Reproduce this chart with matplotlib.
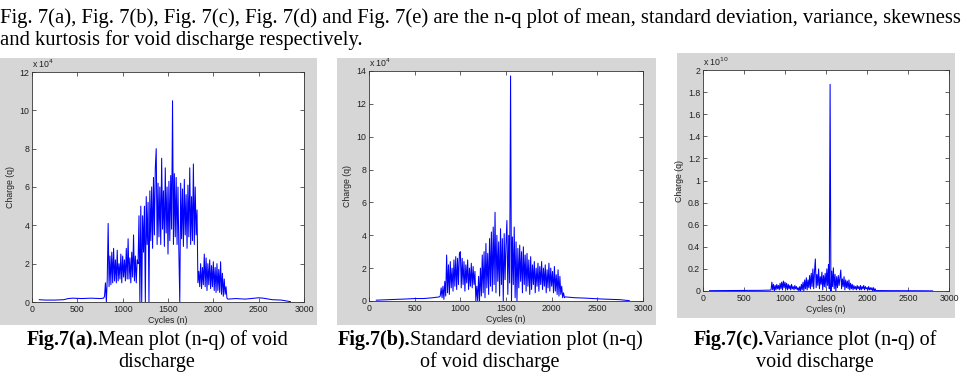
import numpy as np
from matplotlib import pyplot as plt
from matplotlib.patches import Rectangle

W, H = 964, 378

# ---- данные ----
cycles_step = 10

# (a) mean, units of 1e4
mean_left_x = [80, 150, 250, 350, 400, 450, 550, 650, 750, 790]
mean_left_y = [0.12, 0.1, 0.1, 0.12, 0.18, 0.2, 0.18, 0.2, 0.18, 0.2]
mean_start = 800
mean_active = [
    0.3, 1.0, 0.0, 1.2, 4.1, 0.8, 2.4, 0.9, 2.6, 1.0,
    2.8, 1.1, 2.2, 1.0, 2.7, 1.1, 2.0, 1.2, 2.5, 1.0,
    2.4, 1.3, 2.2, 1.1, 2.8, 1.2, 3.3, 1.2, 2.3, 1.0,
    2.6, 1.3, 3.5, 1.1, 2.4, 1.0, 2.2, 2.0, 4.5, 0.0,
    5.0, 0.0, 4.5, 2.6, 5.0, 0.0, 5.5, 3.0, 5.2, 0.0,
    5.8, 3.2, 6.0, 2.8, 6.5, 3.5, 7.0, 8.0, 3.0, 6.2,
    3.4, 6.0, 3.0, 7.5, 3.8, 5.8, 2.9, 7.0, 3.6, 6.0,
    2.5, 6.3, 3.2, 6.6, 3.8, 10.5, 3.0, 6.7, 3.4, 6.5,
    3.0, 6.0, 2.6, 0.0, 6.2, 3.3, 5.9, 2.9, 6.4, 3.5,
    5.6, 2.8, 6.1, 3.4, 7.0, 3.0, 5.5, 3.2, 7.2, 3.0,
    6.0, 3.5, 4.8, 1.0, 1.6, 0.8, 2.0, 0.7, 1.8, 0.9,
    2.5, 0.8, 2.3, 0.6, 2.0, 0.9, 2.2, 0.7, 1.9, 0.8,
    2.1, 0.6, 1.8, 0.5, 2.0, 0.6, 1.7, 0.5, 2.1, 0.4,
    1.5, 0.3, 1.2, 0.4, 0.8, 0.2,
]
mean_right_x = [2160, 2250, 2350, 2450, 2500, 2550, 2650, 2750, 2800, 2850]
mean_right_y = [0.15, 0.18, 0.15, 0.2, 0.22, 0.2, 0.12, 0.1, 0.06, 0.02]

# (b) standard deviation, units of 1e4
std_left_x = [80, 200, 300, 400, 500, 600, 700, 770]
std_left_y = [0.05, 0.08, 0.1, 0.12, 0.15, 0.15, 0.2, 0.25]
std_start = 780
std_active = [
    0.3, 0.8, 0.2, 0.9, 0.1, 1.2, 0.3, 2.8, 0.5, 2.2,
    0.4, 2.4, 0.8, 2.0, 0.6, 2.5, 0.9, 2.7, 0.7, 2.6,
    1.0, 2.9, 3.0, 0.8, 2.6, 1.0, 2.4, 0.6, 2.2, 1.1,
    2.5, 0.7, 2.0, 0.9, 2.3, 0.8, 2.1, 1.0, 1.8, 0.0,
    0.9, 0.0, 1.5, 0.0, 2.0, 0.3, 2.8, 0.5, 3.0, 0.2,
    3.5, 0.8, 2.9, 0.4, 3.8, 0.9, 4.2, 0.6, 4.5, 1.0,
    5.4, 0.5, 4.0, 1.2, 3.6, 0.3, 4.4, 1.0, 3.8, 0.0,
    4.1, 1.3, 3.5, 4.9, 0.4, 4.0, 1.1, 13.7, 0.0, 3.9,
    1.0, 4.5, 0.2, 3.6, 0.0, 3.2, 0.8, 3.4, 1.2, 3.0,
    0.5, 3.3, 1.0, 2.8, 0.6, 2.9, 0.9, 2.5, 0.4, 2.7,
    0.7, 2.2, 1.0, 2.4, 0.5, 2.0, 0.9, 2.3, 0.6, 2.1,
    1.0, 2.4, 0.7, 2.0, 0.9, 2.2, 0.5, 1.9, 0.8, 2.3,
    0.6, 2.0, 0.9, 1.8, 0.5, 2.1, 0.6, 1.6, 0.4, 1.9,
    0.3, 1.5, 0.4, 0.9, 0.2, 0.5, 0.2,
]
std_right_x = [2150, 2250, 2350, 2450, 2550, 2650, 2750, 2850]
std_right_y = [0.25, 0.2, 0.18, 0.15, 0.12, 0.1, 0.08, 0.02]

# (c) variance, units of 1e10
var_left_x = [80, 300, 500, 700, 820]
var_left_y = [0.003, 0.004, 0.005, 0.006, 0.008]
var_start = 830
var_active = [
    0.01, 0.08, 0.01, 0.06, 0.0, 0.05, 0.01, 0.06, 0.02, 0.05,
    0.01, 0.07, 0.02, 0.08, 0.01, 0.09, 0.03, 0.08, 0.02, 0.07,
    0.01, 0.06, 0.02, 0.05, 0.01, 0.06, 0.02, 0.04, 0.01, 0.05,
    0.02, 0.04, 0.01, 0.03, 0.0, 0.04, 0.0, 0.06, 0.01, 0.08,
    0.0, 0.1, 0.02, 0.12, 0.01, 0.1, 0.03, 0.14, 0.02, 0.16,
    0.04, 0.2, 0.02, 0.18, 0.29, 0.03, 0.15, 0.05, 0.2, 0.02,
    0.13, 0.06, 0.17, 0.01, 0.14, 0.04, 0.16, 0.03, 0.2, 0.05,
    0.24, 0.02, 1.87, 0.0, 0.18, 0.04, 0.21, 0.02, 0.15, 0.0,
    0.13, 0.03, 0.14, 0.05, 0.12, 0.19, 0.02, 0.11, 0.04, 0.13,
    0.01, 0.1, 0.03, 0.09, 0.02, 0.1, 0.01, 0.07, 0.02, 0.06,
    0.01, 0.05, 0.02, 0.04, 0.01, 0.05, 0.02, 0.04, 0.01, 0.05,
    0.01, 0.04, 0.02, 0.05, 0.01, 0.04, 0.02, 0.03, 0.01, 0.04,
    0.01, 0.03, 0.01, 0.03, 0.0, 0.03, 0.0, 0.02, 0.0,
]
var_right_x = [2120, 2300, 2500, 2700, 2800]
var_right_y = [0.004, 0.003, 0.003, 0.002, 0.001]

para_line1 = ('Fig. 7(a), Fig. 7(b), Fig. 7(c), Fig. 7(d) and Fig. 7(e) are the n-q plot '
              'of mean, standard deviation, variance, skewness')
para_line2 = 'and kurtosis for void discharge respectively.'

captions = [
    ('Fig.7(a).', 'Mean plot (n-q) of void', 'discharge'),
    ('Fig.7(b).', 'Standard deviation plot (n-q)', 'of void discharge'),
    ('Fig.7(c).', 'Variance plot (n-q) of', 'void discharge'),
]


def series(lx, ly, start, active, rx, ry):
    ax_ = start + cycles_step * np.arange(len(active))
    x = np.concatenate([lx, ax_, rx])
    y = np.concatenate([ly, active, ry])
    return x, y


def px(x0, y0, x1, y1):
    # пиксели (сверху вниз) -> доли фигуры
    return [x0 / W, 1 - y1 / H, (x1 - x0) / W, (y1 - y0) / H]


fig = plt.figure(figsize=(W / 100, H / 100), dpi=100)
fig.patch.set_facecolor('white')

gray = '#d6d6d6'
for x0, y0, x1, y1 in [(0, 58, 317, 325), (337, 58, 656, 325), (677, 53, 955, 318)]:
    r = px(x0, y0, x1, y1)
    fig.add_artist(Rectangle((r[0], r[1]), r[2], r[3], transform=fig.transFigure,
                             facecolor=gray, edgecolor='none', zorder=-1))

panels = [
    (px(32, 72, 304, 302), series(mean_left_x, mean_left_y, mean_start, mean_active,
                                  mean_right_x, mean_right_y), 12, 2, '4'),
    (px(369, 71, 643, 301), series(std_left_x, std_left_y, std_start, std_active,
                                   std_right_x, std_right_y), 14, 2, '4'),
    (px(703, 70, 949, 291), series(var_left_x, var_left_y, var_start, var_active,
                                   var_right_x, var_right_y), 2, 0.2, '10'),
]

tick_font = dict(family='Liberation Sans', size=6.3)
for pos, (x, y), ymax, ystep, expo in panels:
    ax = fig.add_axes(pos)
    ax.plot(x, y, color='#0000ff', lw=0.75)
    ax.set_xlim(0, 3000)
    ax.set_ylim(0, ymax)
    ax.set_xticks(np.arange(0, 3001, 500))
    yt = np.round(np.arange(0, ymax + ystep / 2, ystep), 2)
    ax.set_yticks(yt)
    ax.set_yticklabels(['%g' % v for v in yt])
    ax.tick_params(direction='in', length=3, width=0.5, pad=2,
                   top=True, right=True, labelsize=6.3, colors='#222222')
    for lab in ax.get_xticklabels() + ax.get_yticklabels():
        lab.set_family('Liberation Sans')
    for s in ax.spines.values():
        s.set_linewidth(0.6)
        s.set_color('#333333')
    ax.set_xlabel('Cycles (n)', labelpad=1.5, color='#222222', **tick_font)
    ax.set_ylabel('Charge (q)', labelpad=3, color='#222222', **tick_font)
    ax.text(0.0, 1.008, 'x 10$^{%s}$' % expo, transform=ax.transAxes,
            ha='left', va='bottom', color='#222222', **tick_font)

# текст статьи сверху, подгоняем ширину первой строки
renderer = fig.canvas.get_renderer()
t1 = fig.text(0.0, 1 - 18 / H, para_line1, family='Liberation Serif', size=13,
              ha='left', va='center')
w = t1.get_window_extent(renderer).width
t1.set_fontsize(13 * 955 / w)
fs = t1.get_fontsize()
fig.text(0.0, 1 - 40 / H, para_line2, family='Liberation Serif', size=fs,
         ha='left', va='center')

# подписи под графиками
for (bold, rest, line2), cx in zip(captions, [157, 490, 815]):
    tb = fig.text(0, 1 - 340 / H, bold, family='Liberation Serif', size=14.5,
                  weight='bold', ha='left', va='center')
    tr = fig.text(0, 1 - 340 / H, rest, family='Liberation Serif', size=14.5,
                  ha='left', va='center')
    wb = tb.get_window_extent(renderer).width
    wr = tr.get_window_extent(renderer).width
    x0 = cx - (wb + wr) / 2
    tb.set_x(x0 / W)
    tr.set_x((x0 + wb) / W)
    fig.text(cx / W, 1 - 362 / H, line2, family='Liberation Serif', size=14.5,
             ha='center', va='center')

fig.savefig('out.png', dpi=100)
